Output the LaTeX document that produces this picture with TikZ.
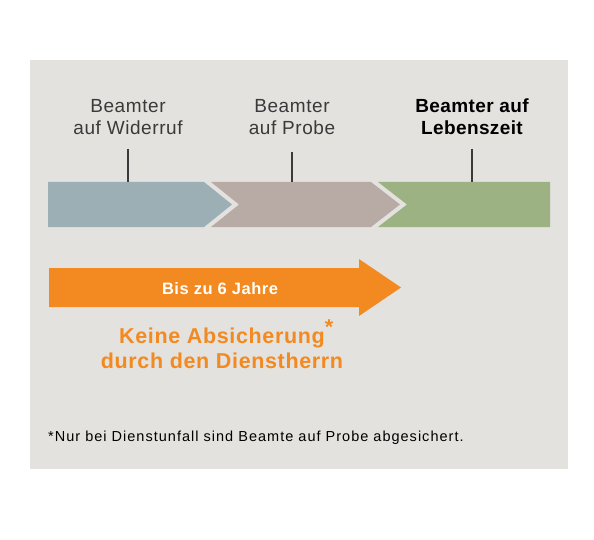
\documentclass[tikz,border=0pt]{standalone}
\usepackage{fontspec}
\setmainfont{Liberation Sans}
\definecolor{bgc}{HTML}{E4E2DE}
\definecolor{bluec}{HTML}{9BAFB5}
\definecolor{pinkc}{HTML}{B8ABA6}
\definecolor{greenc}{HTML}{9CB283}
\definecolor{orangec}{HTML}{F28A21}
\definecolor{txtc}{HTML}{3A3A3A}
\begin{document}
\begin{tikzpicture}[x=1pt,y=-1pt,
  lbl/.style={align=center,text=txtc,font=\fontsize{19}{22}\selectfont\addfontfeatures{LetterSpace=3},inner sep=0pt},
  tick/.style={draw=txtc,line width=1.2pt},
  orangetxt/.style={align=center,text=orangec,font=\bfseries\fontsize{21.5}{25}\selectfont\addfontfeatures{LetterSpace=3},inner sep=0pt}]
\useasboundingbox (0,0) rectangle (594,540);
\fill[bgc] (30,60) rectangle (568,469);
% bars
\fill[bluec] (48,182) -- (204,182) -- (232,204.5) -- (204,227) -- (48,227) -- cycle;
\fill[pinkc] (211,182) -- (371,182) -- (400,204.5) -- (371,227) -- (211,227) -- (239,204.5) -- cycle;
\fill[greenc] (378,182) -- (550,182) -- (550,227) -- (378,227) -- (407,204.5) -- cycle;
% labels
\node[lbl] (l1) at (128,117) {Beamter\\auf Widerruf};
\node[lbl] (l2) at (292,117) {Beamter\\auf Probe};
\node[lbl,text=black,font=\bfseries\fontsize{19}{22}\selectfont\addfontfeatures{LetterSpace=2}] (l3) at (472,117) {Beamter auf\\Lebenszeit};
\coordinate (t1a) at (128,149); \coordinate (t1b) at (128,182);
\coordinate (t2a) at (292,152); \coordinate (t2b) at (292,182);
\coordinate (t3a) at (472,149); \coordinate (t3b) at (472,182);
\draw[tick] (t1a) -- (t1b);
\draw[tick] (t2a) -- (t2b);
\draw[tick] (t3a) -- (t3b);
% orange arrow
\fill[orangec] (49,268) -- (359,268) -- (359,259) -- (401,287.5) -- (359,316) -- (359,307) -- (49,307) -- cycle;
\node[text=white,font=\bfseries\fontsize{16.5}{20}\selectfont\addfontfeatures{LetterSpace=3},inner sep=0pt] (yrs) at (220,288.5) {Bis zu 6 Jahre};
\node[orangetxt] (keine) at (222,344) {Keine Absicherung\rlap{\raisebox{0.4em}{*}}\\durch den Dienstherrn};
\node[anchor=west,inner sep=0pt,font=\fontsize{14.5}{17}\selectfont\addfontfeatures{LetterSpace=7},text=black] (foot) at (48,438) {*Nur bei Dienstunfall sind Beamte auf Probe abgesichert.};
\end{tikzpicture}
\end{document}
